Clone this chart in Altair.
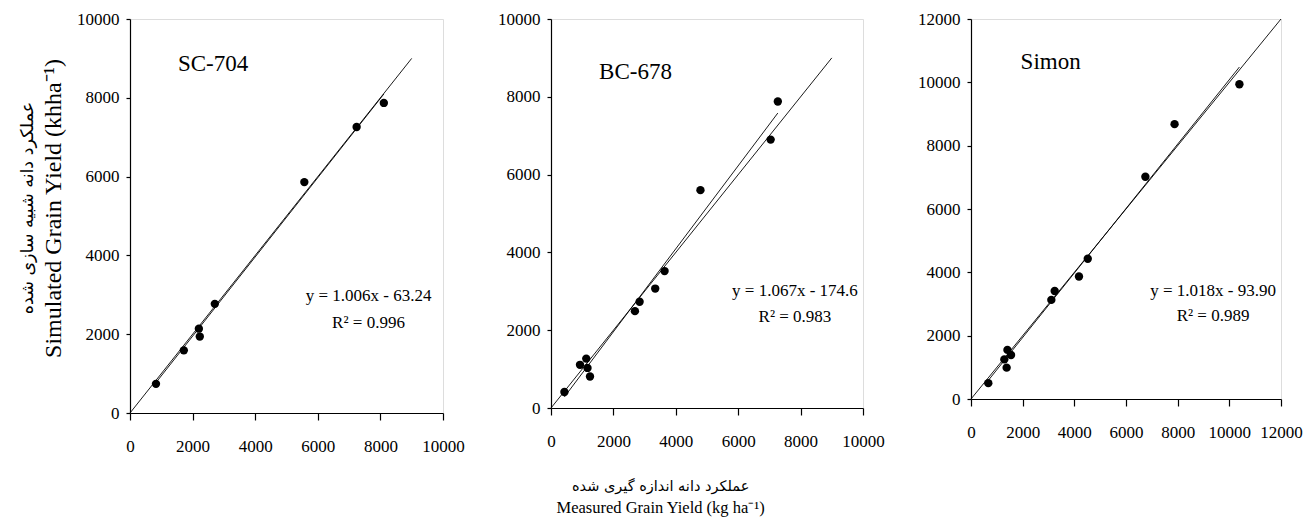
import altair as alt
import pandas as pd

FONT = "Liberation Serif"
FA_FONT = "DejaVu Sans"

# ---- data ----
cultivars = ["SC-704", "BC-678", "Simon"]
sc704_measured = [830, 1720, 2200, 2230, 2710, 5570, 7240, 8110]
sc704_simulated = [740, 1590, 2140, 1940, 2770, 5860, 7260, 7870]
bc678_measured = [430, 930, 1130, 1170, 1250, 2690, 2840, 3340, 3640, 4790, 7040, 7270]
bc678_simulated = [410, 1110, 1270, 1030, 810, 2490, 2730, 3070, 3520, 5600, 6900, 7880]
simon_measured = [670, 1290, 1410, 1380, 1550, 3110, 3240, 4180, 4520, 6750, 7880, 10390]
simon_simulated = [500, 1250, 1550, 990, 1390, 3130, 3410, 3870, 4430, 7020, 8680, 9940]
slopes = [1.006, 1.067, 1.018]
intercepts = [-63.24, -174.6, -93.90]
equations = ["y = 1.006x - 63.24", "y = 1.067x - 174.6", "y = 1.018x - 93.90"]
r2_labels = ["R² = 0.996", "R² = 0.983", "R² = 0.989"]
one_to_one_ends = [[0, 9000], [0, 9000], [0, 12000]]
axis_max = [10000, 10000, 12000]
tick_values = [[0, 2000, 4000, 6000, 8000, 10000],
               [0, 2000, 4000, 6000, 8000, 10000],
               [0, 2000, 4000, 6000, 8000, 10000, 12000]]

y_title_fa = "عملکرد دانه شبیه سازی شده"
y_title_en = "Simulated Grain Yield (khha⁻¹)"
x_title_fa = "عملکرد دانه اندازه گیری شده"
x_title_en = "Measured Grain Yield (kg ha⁻¹)"

# annotation anchors (data coordinates) and panel sizes
name_pos = [(1530, 8860), (1540, 8640), (1920, 10630)]
eq_pos = [((7620, 2970), (7620, 2290)), ((7820, 3010), (7820, 2350)), ((9370, 3420), (9370, 2630))]
panel_w = [313, 312, 310]
panel_h = [394, 389, 380]

measured = [sc704_measured, bc678_measured, simon_measured]
simulated = [sc704_simulated, bc678_simulated, simon_simulated]


def panel(i):
    xmax = axis_max[i]
    pts = pd.DataFrame({"m": measured[i], "s": simulated[i]})
    lo, hi = min(measured[i]), max(measured[i])
    lines = pd.DataFrame({
        "m": [one_to_one_ends[i][0], one_to_one_ends[i][1], lo, hi],
        "s": [one_to_one_ends[i][0], one_to_one_ends[i][1],
              slopes[i] * lo + intercepts[i], slopes[i] * hi + intercepts[i]],
        "line": ["1:1", "1:1", "fit", "fit"],
    })
    name_df = pd.DataFrame({"m": [name_pos[i][0]], "s": [name_pos[i][1]], "t": [cultivars[i]]})
    eq_df = pd.DataFrame({
        "m": [eq_pos[i][0][0], eq_pos[i][1][0]],
        "s": [eq_pos[i][0][1], eq_pos[i][1][1]],
        "t": [equations[i], r2_labels[i]],
    })

    xsc = alt.Scale(domain=[0, xmax], nice=False)
    ysc = alt.Scale(domain=[0, xmax], nice=False)
    common_axis = dict(grid=False, labelFont=FONT, labelFontSize=17, labelColor="black",
                       domainColor="black", tickColor="black", domainWidth=1.2, tickWidth=1.2,
                       format="d", labelOverlap=False, labelFlush=False)
    xaxis = alt.Axis(values=tick_values[i], title=None, tickSize=7, labelPadding=18, **common_axis)
    if i == 0:
        yaxis = alt.Axis(values=tick_values[i], title=y_title_en, titleFont=FONT, titleFontSize=24,
                         titleFontWeight="normal", titleColor="black", titleY=panel_h[i] / 2 - 8,
                         titlePadding=11, tickSize=4, labelPadding=7, **common_axis)
    else:
        yaxis = alt.Axis(values=tick_values[i], title=None, tickSize=4, labelPadding=7, **common_axis)

    x = alt.X("m:Q", scale=xsc, axis=xaxis)
    y = alt.Y("s:Q", scale=ysc, axis=yaxis)

    line_layer = alt.Chart(lines).mark_line(color="black", strokeWidth=0.9).encode(
        x=x, y=y, detail="line:N")
    pt_layer = alt.Chart(pts).mark_circle(size=70, color="black", opacity=1).encode(x=x, y=y)
    name_layer = alt.Chart(name_df).mark_text(font=FONT, fontSize=23, align="left",
                                              baseline="middle", color="black").encode(
        x=x, y=y, text="t:N")
    eq_layer = alt.Chart(eq_df).mark_text(font=FONT, fontSize=17, align="center",
                                          baseline="middle", color="black").encode(
        x=x, y=y, text="t:N")
    layered = alt.layer(line_layer, pt_layer, name_layer, eq_layer).properties(
        width=panel_w[i], height=panel_h[i])
    if i == 0:
        layered = layered.properties(
            title=alt.TitleParams(text=y_title_fa, orient="left", anchor="middle",
                                  font=FA_FONT, fontSize=17.5, fontWeight="normal",
                                  color="black", offset=5, dx=8))
    return layered


chart = alt.hconcat(panel(0), panel(1), panel(2), spacing=108, bounds="flush").properties(
    title=alt.TitleParams(text=x_title_fa, subtitle=x_title_en, orient="bottom", anchor="middle",
                          font=FA_FONT, fontSize=14.5, fontWeight="normal", color="black",
                          subtitleFont=FONT, subtitleFontSize=16.5, subtitleColor="black",
                          subtitlePadding=6, offset=25),
    padding={"left": 18, "top": 9, "right": 2, "bottom": 4},
).configure_view(stroke="black", strokeWidth=1.2).configure(background="white")

chart.save("out.html", embed_options={"renderer": "svg", "actions": False})
